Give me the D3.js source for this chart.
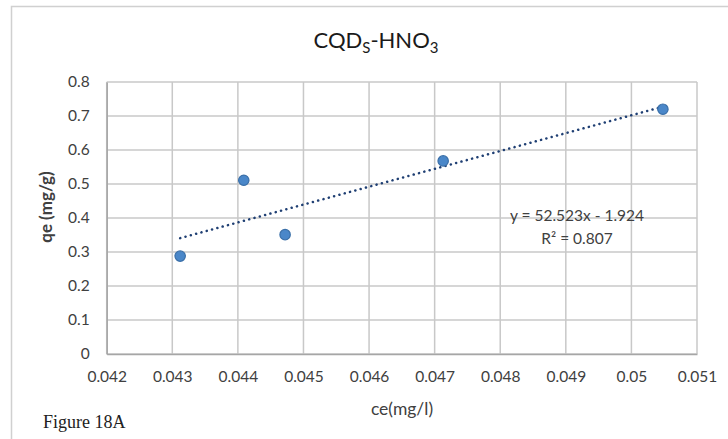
<!DOCTYPE html>
<html>
<head>
<meta charset="utf-8">
<script src="https://cdn.jsdelivr.net/npm/d3@7"></script>
<style>
  body { margin: 0; background: #fff; }
</style>
</head>
<body>
<div id="chart"></div>
<script>
var width = 728, height = 439;
var FONT = "Lato, 'Open Sans', sans-serif";

// data
var ceValues = [0.04312, 0.04409, 0.04472, 0.04713, 0.05048];
var qeValues = [0.288, 0.511, 0.351, 0.568, 0.720];
var xTicks = [0.042, 0.043, 0.044, 0.045, 0.046, 0.047, 0.048, 0.049, 0.05, 0.051];
var yTicks = [0, 0.1, 0.2, 0.3, 0.4, 0.5, 0.6, 0.7, 0.8];
var slope = 52.523, intercept = -1.924;

var x = d3.scaleLinear().domain([0.042, 0.051]).range([106.7, 697]);
var y = d3.scaleLinear().domain([0, 0.8]).range([354, 82]);

var svg = d3.select("#chart").append("svg")
  .attr("width", width)
  .attr("height", height)
  .style("font-family", FONT);

// outer chart border
svg.append("rect")
  .attr("x", 11.5).attr("y", 6.5)
  .attr("width", 740).attr("height", 460)
  .style("fill", "none").style("stroke", "#d0d0d0").style("stroke-width", 1.5);

// grid
svg.append("g").selectAll("line")
  .data(xTicks)
  .enter().append("line")
  .attr("x1", function(d) { return x(d); }).attr("x2", function(d) { return x(d); })
  .attr("y1", y(0)).attr("y2", y(0.8))
  .style("stroke", "#c8c8c8").style("stroke-width", 1.5);

svg.append("g").selectAll("line")
  .data(yTicks)
  .enter().append("line")
  .attr("x1", x(0.042)).attr("x2", x(0.051))
  .attr("y1", function(d) { return y(d); }).attr("y2", function(d) { return y(d); })
  .style("stroke", "#c8c8c8").style("stroke-width", 1.5);

// axes
var xAxis = svg.append("g")
  .attr("transform", "translate(0," + y(0) + ")")
  .call(d3.axisBottom(x).tickValues(xTicks).tickSize(0).tickPadding(17)
        .tickFormat(function(d) { return String(+d.toFixed(3)); }));
xAxis.select(".domain").style("stroke", "#a6a6a6").style("stroke-width", 1.5);
xAxis.selectAll("text").style("font-size", "15.5px").style("fill", "#404040").style("font-family", FONT);

var yAxis = svg.append("g")
  .attr("transform", "translate(" + x(0.042) + ",0)")
  .call(d3.axisLeft(y).tickValues(yTicks).tickSize(0).tickPadding(17)
        .tickFormat(function(d) { return String(+d.toFixed(1)); }));
yAxis.select(".domain").style("stroke", "#a6a6a6").style("stroke-width", 1.5);
yAxis.selectAll("text").style("font-size", "15.5px").style("fill", "#404040").style("font-family", FONT);

// trendline
var xMin = d3.min(ceValues), xMax = d3.max(ceValues);
svg.append("line")
  .attr("x1", x(xMin)).attr("y1", y(slope * xMin + intercept))
  .attr("x2", x(xMax)).attr("y2", y(slope * xMax + intercept))
  .style("stroke", "#1f3f73")
  .style("stroke-width", 2.5)
  .style("stroke-linecap", "round")
  .style("stroke-dasharray", "0.1 5.4");

// points
svg.append("g").selectAll("circle")
  .data(ceValues)
  .enter().append("circle")
  .attr("cx", function(d) { return x(d); })
  .attr("cy", function(d, i) { return y(qeValues[i]); })
  .attr("r", 5.2)
  .style("fill", "#4a87c9")
  .style("stroke", "#3a6fa8")
  .style("stroke-width", 1.2);

// title
var title = svg.append("text")
  .attr("x", 376).attr("y", 48)
  .attr("text-anchor", "middle")
  .style("font-size", "22px").style("fill", "#1a1a1a");
title.append("tspan").text("CQD");
title.append("tspan").text("S").attr("dy", 5).style("font-size", "15px");
title.append("tspan").text("-HNO").attr("dy", -5);
title.append("tspan").text("3").attr("dy", 5).style("font-size", "15px");

// axis titles
svg.append("text")
  .attr("transform", "translate(52,207) rotate(-90)")
  .attr("text-anchor", "middle")
  .style("font-size", "17px").style("font-weight", "bold").style("fill", "#404040")
  .text("qe (mg/g)");

svg.append("text")
  .attr("x", 402).attr("y", 415)
  .attr("text-anchor", "middle")
  .style("font-size", "17.5px").style("fill", "#404040")
  .text("ce(mg/l)");

// equation
svg.append("text")
  .attr("x", 577).attr("y", 221)
  .attr("text-anchor", "middle")
  .style("font-size", "15.5px").style("fill", "#404040")
  .text("y = 52.523x - 1.924");
svg.append("text")
  .attr("x", 577).attr("y", 244)
  .attr("text-anchor", "middle")
  .style("font-size", "15.5px").style("fill", "#404040")
  .text("R² = 0.807");

// caption
svg.append("text")
  .attr("x", 43).attr("y", 428)
  .style("font-family", "'Liberation Serif', serif")
  .style("font-size", "18px").style("fill", "#222")
  .text("Figure 18A");
</script>
</body>
</html>
